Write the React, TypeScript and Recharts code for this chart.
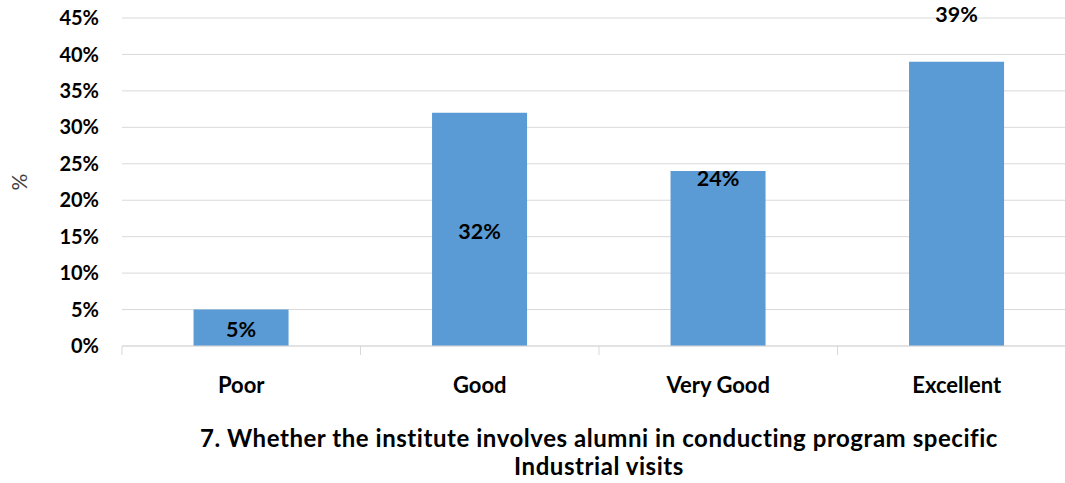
import React from 'react';
import { BarChart, Bar, XAxis, YAxis, CartesianGrid, LabelList } from 'recharts';

const categories = ['Poor', 'Good', 'Very Good', 'Excellent'];
const shares = [5, 32, 24, 39];
const yTicks = [0, 5, 10, 15, 20, 25, 30, 35, 40, 45];
const titleLines = [
  '7. Whether the institute involves alumni in conducting program specific',
  'Industrial visits',
];
const labelModes = ['middle', 'middle', 'insideTop', 'farAbove'];

const data = categories.map((c, i) => ({ name: c, value: shares[i] }));

const FONT = 'Lato, "Open Sans", sans-serif';
const CHART_W = 1080;
const CHART_H = 483;
const MARGIN = { top: 18, right: 4, left: 0, bottom: 0 };
const YAXIS_W = 122;
const XAXIS_H = 137;
const PLOT_W = CHART_W - MARGIN.left - MARGIN.right - YAXIS_W;
const BAND = PLOT_W / categories.length;

const XTick = (props: any) => {
  const { x, y, payload } = props;
  return (
    <g>
      <line x1={x - BAND / 2} x2={x - BAND / 2} y1={y} y2={y + 9} stroke="#D9D9D9" strokeWidth={1} />
      <text x={x} y={y + 47} textAnchor="middle" fontFamily={FONT} fontWeight={700} fontSize={22} fill="#000">
        {payload.value}
      </text>
    </g>
  );
};

const BarLabel = (props: any) => {
  const { x, y, width, height, value, index } = props;
  const mode = labelModes[index];
  let ty = y + height / 2 + 2;
  if (mode === 'insideTop') ty = y + 7;
  if (mode === 'farAbove') ty = y - 47;
  return (
    <text x={x + width / 2} y={ty} dy="0.35em" textAnchor="middle" fontFamily={FONT} fontWeight={700} fontSize={21.5} fill="#000">
      {value}%
    </text>
  );
};

const YLabel = () => (
  <text x={20} y={182} transform="rotate(-90 20 182)" textAnchor="middle" dy="0.35em" fontFamily={FONT} fontSize={21} fill="#404040">
    %
  </text>
);

export default function App() {
  return (
    <div style={{ position: 'absolute', left: 0, top: 0, width: 1065, height: 483, overflow: 'hidden', background: '#fff' }}>
      <BarChart width={CHART_W} height={CHART_H} data={data} margin={MARGIN} barCategoryGap="30%">
        <CartesianGrid horizontal vertical={false} stroke="#D9D9D9" />
        <XAxis
          dataKey="name"
          height={XAXIS_H}
          axisLine={{ stroke: '#D9D9D9' }}
          tickLine={false}
          tickSize={0}
          tickMargin={0}
          tick={<XTick />}
          interval={0}
        />
        <YAxis
          width={YAXIS_W}
          domain={[0, 45]}
          ticks={yTicks}
          interval={0}
          axisLine={false}
          tickLine={false}
          tickSize={0}
          tickMargin={23}
          tickFormatter={(v: number) => `${v}%`}
          tick={{ fontFamily: FONT, fontWeight: 700, fontSize: 20, fill: '#000' }}
          label={<YLabel />}
        />
        <Bar dataKey="value" fill="#5B9BD5" isAnimationActive={false}>
          <LabelList dataKey="value" content={<BarLabel />} />
        </Bar>
      </BarChart>
      <div
        style={{
          position: 'absolute',
          left: YAXIS_W,
          top: 424,
          width: PLOT_W,
          textAlign: 'center',
          fontFamily: FONT,
          fontWeight: 700,
          fontSize: 24,
          letterSpacing: '0.55px',
          lineHeight: '28px',
          whiteSpace: 'nowrap',
          color: '#000',
        }}
      >
        {titleLines.map((t, i) => (
          <div key={i}>{t}</div>
        ))}
      </div>
    </div>
  );
}
